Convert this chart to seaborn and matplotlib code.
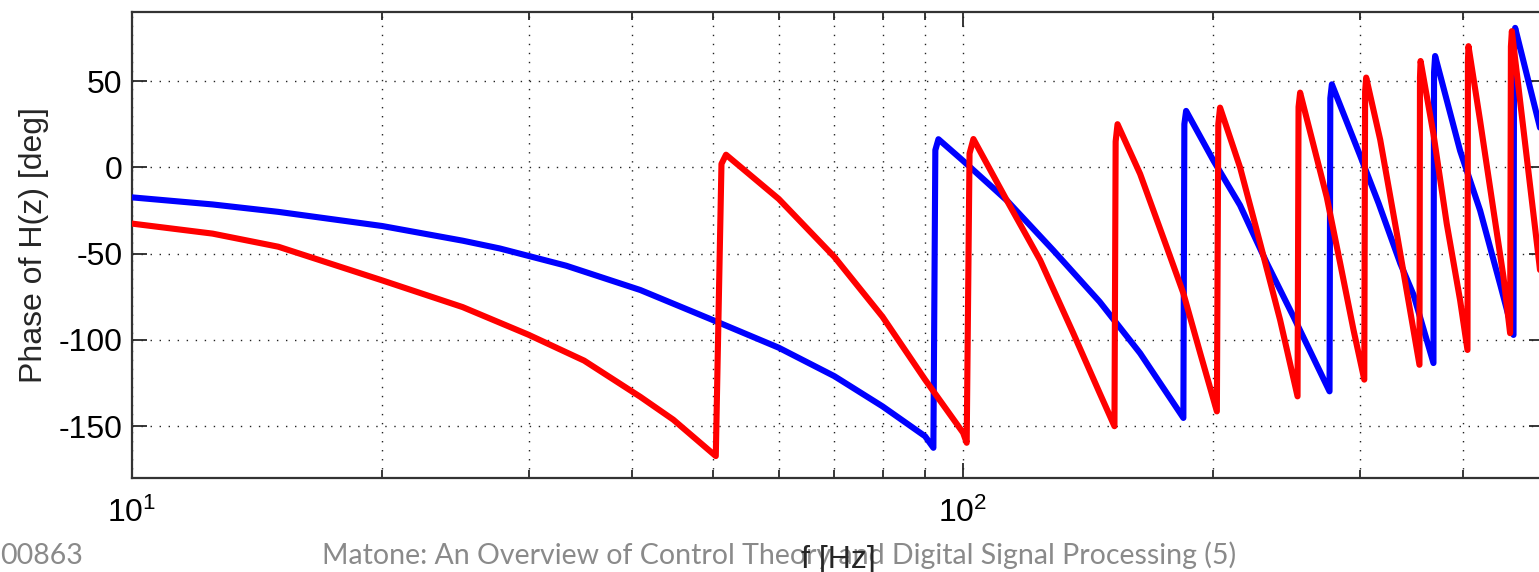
import matplotlib
matplotlib.use("Agg")
import matplotlib.pyplot as plt
import matplotlib.ticker as mticker
import pandas as pd
import seaborn as sns

# Значения (частота в Гц, фаза в градусах)
freq_blue = [10, 12.5, 15, 20, 25, 27.7, 33.3, 40.9, 50, 60, 70, 80, 90, 92.1,
             92.6, 93.4, 100, 112.9, 128.4, 146, 163.3, 184.1,
             184.6, 185.5, 200.1, 215.4, 232.1, 249.8, 276.0,
             276.6, 277.8, 300.3, 316.3, 335.8, 348.4, 368.1,
             368.7, 369.8, 396.3, 418.9, 443.6, 459.5,
             460.2, 461.6, 493.3, 500]
phase_blue = [-17.4, -21.5, -25.8, -34, -42.5, -47, -57, -71.1, -88.5, -104.5, -121, -138.5, -155.8, -162.5,
              10, 16.3, 3.8, -19.2, -48.1, -77.9, -107.7, -145.2,
              25, 32.7, 3.9, -22, -55.7, -86.6, -129.8,
              40, 48.1, 7, -21, -55.7, -74, -113.4,
              55, 64.5, 9.6, -25, -69.2, -97.1,
              72, 80.8, 25, 13.6]

freq_red = [10, 12.5, 15, 20, 25, 30, 35, 40.9, 44.8, 50.4,
            51.2, 51.85, 60, 70, 80, 90, 100, 101.0,
            101.8, 102.9, 112.9, 123.8, 135.7, 146, 152.1,
            152.6, 153.4, 163.3, 175.8, 184.1, 192.9, 202.0,
            202.8, 203.8, 215.4, 227.8, 240.7, 252.6,
            253.3, 254.4, 273.9, 284.3, 294.9, 303.9,
            304.6, 305.5, 317.6, 332.6, 354.1,
            354.6, 355.2, 368.1, 381.9, 396.3, 404.5,
            405.0, 405.6, 418.9, 434.7, 446.9, 455.2,
            456.2, 457.4, 493.3, 500]
phase_red = [-32.6, -38.4, -46, -65.5, -81, -97, -112, -133, -146.2, -167.3,
             2, 7.3, -18.3, -51.9, -86.6, -123, -153.8, -159.6,
             8, 16.4, -19.2, -53.8, -96.1, -130.8, -150,
             15, 25, -3.8, -46.2, -73, -107.7, -141.4,
             25, 34.6, 0, -44.2, -88.5, -132.7,
             35, 43.3, -17.3, -55.7, -94, -123,
             44, 52, 16, -38.4, -114.4,
             52, 61.6, 19.3, -32.7, -77, -105.8,
             62, 70.2, 26.9, -25, -63.5, -96.1,
             70, 78.9, -55, -80]

y_ticks = [-150, -100, -50, 0, 50]
x_ticks = [10, 100]

footer_left = "00863"
footer_main = "Matone: An Overview of Control Theory and Digital Signal Processing (5)"

sns.set_style("ticks")
plt.rcParams['font.family'] = ['Liberation Sans', 'DejaVu Sans']
plt.rcParams['mathtext.fontset'] = 'custom'
plt.rcParams['mathtext.rm'] = 'Liberation Sans'
plt.rcParams['mathtext.it'] = 'Liberation Sans:italic'

W, H = 1539, 572
fig = plt.figure(figsize=(W / 100, H / 100), dpi=100)
fig.patch.set_facecolor('white')
ax = fig.add_axes([132 / W, 94 / H, 1412 / W, 466 / H])
ax.set_facecolor('white')
ax.set_xscale('log')

df_blue = pd.DataFrame({'f': freq_blue, 'phase': phase_blue})
df_red = pd.DataFrame({'f': freq_red, 'phase': phase_red})
sns.lineplot(data=df_blue, x='f', y='phase', color='#0000ff', lw=4.4,
             sort=False, estimator=None, ax=ax, zorder=3)
sns.lineplot(data=df_red, x='f', y='phase', color='#ff0000', lw=4.4,
             sort=False, estimator=None, ax=ax, zorder=4)

ax.set_xlim(10, 500)
ax.set_ylim(-180, 90)
ax.set_yticks(y_ticks)
ax.set_yticklabels([str(v) for v in y_ticks])
ax.xaxis.set_major_locator(mticker.FixedLocator(x_ticks))
ax.xaxis.set_major_formatter(mticker.LogFormatterSciNotation())
ax.xaxis.set_minor_locator(mticker.LogLocator(base=10, subs=range(2, 10)))
ax.xaxis.set_minor_formatter(mticker.NullFormatter())

dot = (0, (1, 5.5))
ax.grid(True, which='major', axis='both', color='#222222', lw=1.0, linestyle=dot)
ax.grid(True, which='minor', axis='x', color='#222222', lw=1.0, linestyle=dot)

ax.tick_params(which='both', direction='in', top=True, right=True,
               colors='#262626', width=1.3, labelcolor='black')
ax.tick_params(which='major', length=10.5)
ax.tick_params(which='minor', length=5.5)
ax.tick_params(axis='y', labelsize=23, pad=7)
ax.tick_params(axis='x', labelsize=23, pad=14)

for s in ax.spines.values():
    s.set_color('#333333')
    s.set_linewidth(1.6)

ax.set_ylabel('Phase of H(z) [deg]', fontsize=23, labelpad=7)
ax.set_xlabel('f [Hz]', fontsize=23, labelpad=12)

fig.text(0.0, 8 / H, footer_left, fontsize=20.5, color='#8a8a8a',
         family=['Lato', 'DejaVu Sans'], ha='left', va='baseline', zorder=-1)
fig.text(322 / W, 8 / H, footer_main, fontsize=20.5, color='#8a8a8a',
         family=['Lato', 'DejaVu Sans'], ha='left', va='baseline', zorder=-1)

fig.savefig('out.png', dpi=100, facecolor='white')
